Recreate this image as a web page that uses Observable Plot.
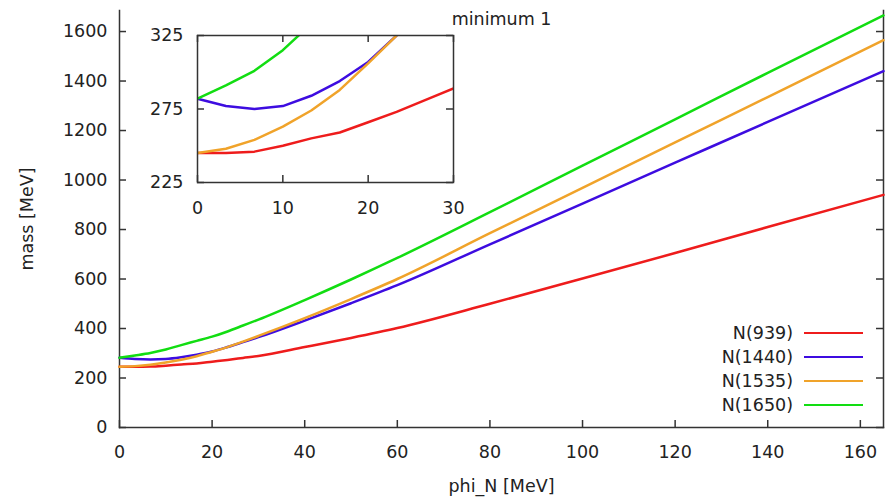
<!DOCTYPE html>
<html>
<head>
<meta charset="utf-8">
<script src="https://cdn.jsdelivr.net/npm/d3@7"></script>
<script src="https://cdn.jsdelivr.net/npm/@observablehq/plot@0.6"></script>
<style>
  html, body { margin: 0; padding: 0; background: #fff; }
  #wrap { position: relative; width: 896px; height: 499px; font-family: "DejaVu Sans", sans-serif; color: #222; }
  #inset { position: absolute; left: 140px; top: 25px; }
  #legend { position: absolute; right: 33px; top: 321px; font-size: 17.5px; }
  #legend .row { display: flex; align-items: center; justify-content: flex-end; height: 24px; }
  #legend .sw { display: inline-block; width: 59px; height: 2.5px; margin-left: 11px; }
</style>
</head>
<body>
<div id="wrap"><div id="main"></div><div id="inset"></div><div id="legend"></div></div>
<script>
// ---- data ----
const phi    = [0, 3.33, 6.67, 10, 13.33, 16.67, 20, 23.33, 26.67, 30, 40, 50, 60, 80, 100, 120, 140, 165];
const n939   = [245, 245, 246, 250, 255, 259, 266, 273, 281, 289, 325, 362, 402, 500, 602, 705, 810, 940];
const n1440  = [282, 277, 275, 277, 284, 294, 307, 325, 345, 365, 432, 502, 575, 740, 905, 1070, 1235, 1440];
const n1535  = [245, 248, 254, 263, 274, 288, 306, 325, 347, 370, 442, 519, 600, 785, 968, 1152, 1335, 1565];
const n1650  = [282, 291, 301, 315, 333, 350, 367, 388, 412, 436, 515, 598, 685, 870, 1058, 1245, 1433, 1665];
const seriesNames = ["N(939)", "N(1440)", "N(1535)", "N(1650)"];
const seriesColors = ["#ee1c1c", "#3d0ce0", "#f0a32a", "#12dd12"];
const mainXTicks = [0, 20, 40, 60, 80, 100, 120, 140, 160];
const mainYTicks = [0, 200, 400, 600, 800, 1000, 1200, 1400, 1600];
const insetXTicks = [0, 10, 20, 30];
const insetYTicks = [225, 275, 325];
const title = "minimum 1";
const xLabel = "phi_N [MeV]";
const yLabel = "mass [MeV]";

const seriesValues = [n939, n1440, n1535, n1650];
const rows = seriesNames.flatMap((name, s) => phi.map((x, i) => ({phi: x, mass: seriesValues[s][i], name})));

const FONT = "DejaVu Sans";
const FS = 17.5;
const AX = "#333";
const TICK = 7;

// main frame geometry
const W = 896, H = 499, ML = 119, MR = 13, MT = 10, MB = 72;
const FW = W - ML - MR, FH = H - MT - MB;

const main = Plot.plot({
  width: W, height: H,
  marginLeft: ML, marginRight: MR, marginTop: MT, marginBottom: MB,
  style: {fontFamily: FONT, fontSize: FS + "px", background: "transparent", color: "#222"},
  x: {domain: [0, 165]},
  y: {domain: [0, 1685]},
  color: {domain: seriesNames, range: seriesColors},
  marks: [
    Plot.frame({anchor: "left", stroke: AX, strokeWidth: 1.5}),
    Plot.frame({anchor: "right", stroke: AX, strokeWidth: 1.5}),
    Plot.frame({anchor: "bottom", stroke: AX, strokeWidth: 1.5}),
    // inward ticks
    Plot.tickX(mainXTicks, {x: d => d, insetTop: FH - TICK, stroke: AX, strokeWidth: 1.5}),
    Plot.tickY(mainYTicks, {y: d => d, insetRight: FW - TICK, stroke: AX, strokeWidth: 1.5}),
    Plot.tickY(mainYTicks, {y: d => d, insetLeft: FW - TICK, stroke: AX, strokeWidth: 1.5}),
    Plot.axisX(mainXTicks, {anchor: "bottom", tickSize: 0, tickPadding: 18, fill: "#222", fontSize: FS,
      label: xLabel, labelAnchor: "center", labelArrow: "none", labelOffset: 64}),
    Plot.axisY(mainYTicks, {anchor: "left", tickSize: 0, tickPadding: 12, fill: "#222", fontSize: FS, tickFormat: "d",
      label: yLabel, labelAnchor: "center", labelArrow: "none", labelOffset: 99}),
    Plot.line(rows, {x: "phi", y: "mass", stroke: "name", z: "name", strokeWidth: 2.5, curve: "monotone-x"}),
    Plot.text([title], {frameAnchor: "top", lineAnchor: "middle", dy: 8.5, fill: "#222", fontSize: FS})
  ]
});
document.getElementById("main").appendChild(main);

// inset geometry
const IW = 330, IH = 197, IML = 57, IMR = 17, IMT = 10, IMB = 40;
const IFW = IW - IML - IMR, IFH = IH - IMT - IMB;

const inset = Plot.plot({
  width: IW, height: IH,
  marginLeft: IML, marginRight: IMR, marginTop: IMT, marginBottom: IMB,
  style: {fontFamily: FONT, fontSize: FS + "px", background: "transparent", color: "#222"},
  x: {domain: [0, 30]},
  y: {domain: [225, 325]},
  color: {domain: seriesNames, range: seriesColors},
  marks: [
    Plot.line(rows, {x: "phi", y: "mass", stroke: "name", z: "name", strokeWidth: 2.5, clip: true}),
    Plot.frame({stroke: AX, strokeWidth: 1.5}),
    Plot.tickX(insetXTicks, {x: d => d, insetTop: IFH - TICK, stroke: AX, strokeWidth: 1.5}),
    Plot.tickX(insetXTicks, {x: d => d, insetBottom: IFH - TICK, stroke: AX, strokeWidth: 1.5}),
    Plot.tickY(insetYTicks, {y: d => d, insetRight: IFW - TICK, stroke: AX, strokeWidth: 1.5}),
    Plot.tickY(insetYTicks, {y: d => d, insetLeft: IFW - TICK, stroke: AX, strokeWidth: 1.5}),
    Plot.axisX(insetXTicks, {anchor: "bottom", tickSize: 0, tickPadding: 19.5, fill: "#222", fontSize: FS, label: null}),
    Plot.axisY(insetYTicks, {anchor: "left", tickSize: 0, tickPadding: 14, fill: "#222", fontSize: FS, label: null})
  ]
});
document.getElementById("inset").appendChild(inset);

const legend = document.getElementById("legend");
seriesNames.forEach((name, i) => {
  const row = document.createElement("div");
  row.className = "row";
  const t = document.createElement("span");
  t.textContent = name;
  const sw = document.createElement("span");
  sw.className = "sw";
  sw.style.background = seriesColors[i];
  row.appendChild(t); row.appendChild(sw);
  legend.appendChild(row);
});
</script>
</body>
</html>
